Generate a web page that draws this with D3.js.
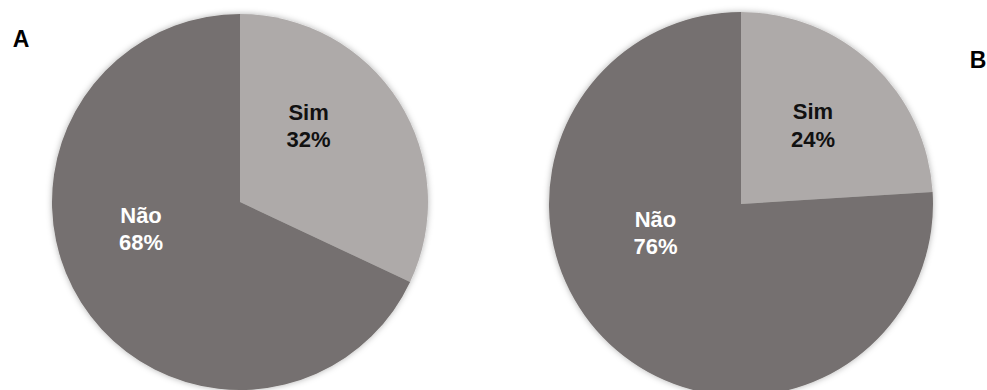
<!DOCTYPE html>
<html>
<head>
<meta charset="utf-8">
<script src="https://cdn.jsdelivr.net/npm/d3@7"></script>
<style>
  html, body { margin: 0; padding: 0; background: #ffffff; }
  svg { display: block; }
  text { font-family: "Liberation Sans", Arial, sans-serif; font-weight: bold; }
</style>
</head>
<body>
<svg id="chart" width="987" height="390"></svg>
<script>
// Answer categories and their shares (%) for panels A and B
const categories = ["Sim", "Não"];
const valuesA = [32, 68];
const valuesB = [24, 76];
const panelLetters = ["A", "B"];

const colors = { "Sim": "#aeaaa9", "Não": "#75706f" };
const textColors = { "Sim": "#111111", "Não": "#ffffff" };

// Layout of each pie: centre, radius, and where the labels sit (angle in degrees from 12 o'clock, distance as a fraction of the radius)
const layout = [
  { cx: 240, cy: 202, r: 188, letter: { x: 21, y: 47 },
    labelPlace: { "Sim": { a: 42, d: 0.545 }, "Não": { a: 255, d: 0.545 } } },
  { cx: 741, cy: 204, r: 192, letter: { x: 978, y: 68 },
    labelPlace: { "Sim": { a: 42.5, d: 0.555 }, "Não": { a: 251.5, d: 0.47 } } }
];

const svg = d3.select("#chart");

const defs = svg.append("defs");
const f = defs.append("filter").attr("id", "soft")
  .attr("x", "-10%").attr("y", "-10%").attr("width", "120%").attr("height", "120%");
f.append("feDropShadow").attr("dx", 0).attr("dy", 0)
  .attr("stdDeviation", 3).attr("flood-color", "#000").attr("flood-opacity", 0.3);

const pie = d3.pie().sort(null).value(d => d.value);

[valuesA, valuesB].forEach((vals, i) => {
  const L = layout[i];
  const data = categories.map((c, k) => ({ cat: c, value: vals[k] }));
  const arcs = pie(data);
  const arc = d3.arc().innerRadius(0).outerRadius(L.r);

  const g = svg.append("g").attr("transform", `translate(${L.cx},${L.cy})`);

  g.append("g").attr("filter", "url(#soft)")
    .selectAll("path").data(arcs).join("path")
    .attr("d", arc)
    .attr("fill", d => colors[d.data.cat]);

  const labels = g.selectAll("text.lbl").data(arcs).join("text")
    .attr("class", "lbl")
    .attr("text-anchor", "middle")
    .attr("font-size", 22)
    .attr("fill", d => textColors[d.data.cat])
    .attr("transform", d => {
      const p = L.labelPlace[d.data.cat];
      const ang = p.a * Math.PI / 180;
      const dist = p.d * L.r;
      return `translate(${dist * Math.sin(ang)},${-dist * Math.cos(ang)})`;
    });
  labels.append("tspan").attr("x", 0).attr("y", -6).text(d => d.data.cat);
  labels.append("tspan").attr("x", 0).attr("y", 21.5).text(d => d.data.value + "%");

  svg.append("text")
    .attr("x", L.letter.x).attr("y", L.letter.y)
    .attr("text-anchor", "middle")
    .attr("font-size", 23)
    .attr("fill", "#000")
    .text(panelLetters[i]);
});
</script>
</body>
</html>
